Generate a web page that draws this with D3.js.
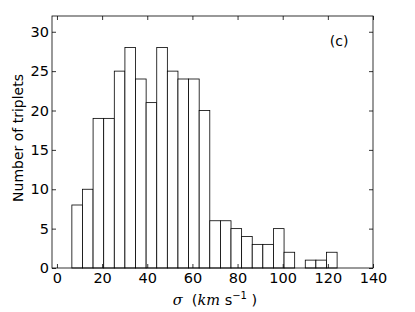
<!DOCTYPE html>
<html>
<head>
<meta charset="utf-8">
<script src="https://cdn.jsdelivr.net/npm/d3@7"></script>
<style>
  body { margin: 0; background: #fff; }
  text { font-family: "DejaVu Sans", sans-serif; }
</style>
</head>
<body>
<script>
// histogram bins (km/s) and counts
const binStart = 6.6;
const binWidth = 4.7;
const counts = [8, 10, 19, 19, 25, 28, 24, 21, 28, 25, 24, 24, 20, 6, 6, 5, 4, 3, 3, 5, 2, 0, 1, 1, 2];
const xTicks = [0, 20, 40, 60, 80, 100, 120, 140];
const yTicks = [0, 5, 10, 15, 20, 25, 30];

const bins = counts.map((c, i) => ({ x0: binStart + i * binWidth, x1: binStart + (i + 1) * binWidth, n: c }));

const W = 415, H = 312;
const margin = { top: 16, right: 42, bottom: 44, left: 52 };
const width = W - margin.left - margin.right;
const height = H - margin.top - margin.bottom;

const svg = d3.select("body").append("svg")
    .attr("width", W)
    .attr("height", H);

const g = svg.append("g")
    .attr("transform", `translate(${margin.left},${margin.top})`);

const x = d3.scaleLinear().domain([-2.2, 140]).range([0, width]);
const y = d3.scaleLinear().domain([0, 32]).range([height, 0]);

// bars
g.append("g")
    .selectAll("rect")
    .data(bins)
    .enter().append("rect")
    .attr("x", d => x(d.x0))
    .attr("y", d => y(d.n))
    .attr("width", d => x(d.x1) - x(d.x0))
    .attr("height", d => y(0) - y(d.n))
    .attr("fill", "#fff")
    .attr("stroke", "#000")
    .attr("stroke-width", 0.8);

// axes, ticks pointing inwards on all four sides
const axB = g.append("g").attr("transform", `translate(0,${height})`)
    .call(d3.axisBottom(x).tickValues(xTicks).tickSizeInner(-4).tickSizeOuter(0).tickPadding(5));
const axT = g.append("g")
    .call(d3.axisTop(x).tickValues(xTicks).tickSizeInner(-4).tickSizeOuter(0).tickFormat(""));
const axL = g.append("g")
    .call(d3.axisLeft(y).tickValues(yTicks).tickSizeInner(-4).tickSizeOuter(0).tickPadding(3));
const axR = g.append("g").attr("transform", `translate(${width},0)`)
    .call(d3.axisRight(y).tickValues(yTicks).tickSizeInner(-4).tickSizeOuter(0).tickFormat(""));

[axB, axT, axL, axR].forEach(a => {
    a.select(".domain").remove();
    a.selectAll("line").attr("stroke", "#000").attr("stroke-width", 0.8);
    a.selectAll("text").attr("font-size", 14.5).attr("fill", "#000")
        .style("font-family", "DejaVu Sans, sans-serif");
});

// frame
g.append("rect")
    .attr("width", width).attr("height", height)
    .attr("fill", "none").attr("stroke", "#000").attr("stroke-width", 0.8);

// panel tag
g.append("text")
    .attr("x", x(125)).attr("y", y(28.2))
    .attr("text-anchor", "middle")
    .attr("font-size", 14)
    .text("(c)");

// y label
svg.append("text")
    .attr("transform", `translate(23,${margin.top + height / 2 - 4}) rotate(-90)`)
    .attr("text-anchor", "middle")
    .attr("font-size", 14)
    .text("Number of triplets");

// x label: sigma (km s^-1)
const xl = svg.append("text")
    .attr("x", margin.left + x(70))
    .attr("y", 305)
    .attr("text-anchor", "middle")
    .attr("font-size", 14.5);
xl.append("tspan").attr("font-family", "DejaVu Serif").attr("font-style", "italic").text("σ");
xl.append("tspan").text("\u00a0\u00a0(");
xl.append("tspan").attr("font-family", "DejaVu Serif").attr("font-style", "italic").text("km");
xl.append("tspan").text("\u00a0s");
xl.append("tspan").attr("dy", -6).attr("font-size", 10).text("−1");
xl.append("tspan").attr("dy", 6).text("\u00a0)");
</script>
</body>
</html>
